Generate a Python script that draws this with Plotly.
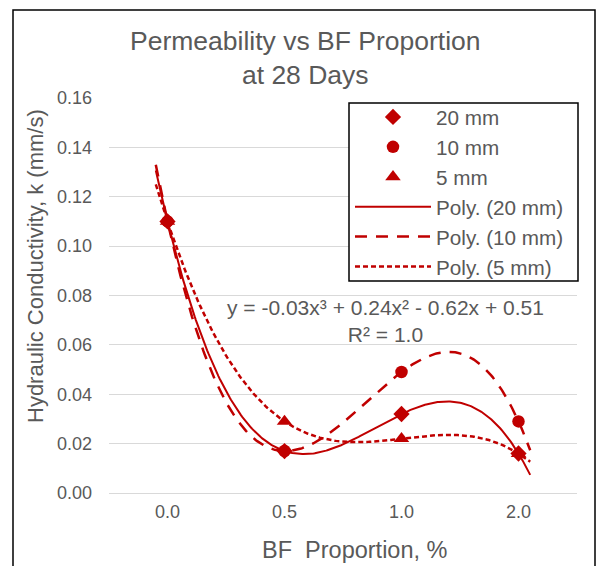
import numpy as np
import plotly.graph_objects as go

categories = ["0.0", "0.5", "1.0", "2.0"]
k_20mm = [0.110, 0.017, 0.032, 0.016]
k_10mm = [0.110, 0.017, 0.049, 0.029]
k_5mm = [0.110, 0.029, 0.022, 0.016]
y_ticks = [0.00, 0.02, 0.04, 0.06, 0.08, 0.10, 0.12, 0.14, 0.16]

RED = "#C00000"
GRAY = "#595959"
FONT = "Liberation Sans, Arial, sans-serif"

W, H = 597, 566
L, R, T, B = 109, 20, 98, 73
pw, ph = W - L - R, H - T - B

def px2paper(x, y):
    return (x - L) / pw, (H - B - y) / ph

xi = np.arange(len(categories), dtype=float)
xs = np.linspace(-0.1, len(categories) - 1 + 0.1, 300)

fig = go.Figure()
fig.add_trace(go.Scatter(x=xi, y=k_20mm, mode="markers", name="20 mm",
                         marker=dict(symbol="diamond", size=12.5, color=RED)))
fig.add_trace(go.Scatter(x=xi, y=k_10mm, mode="markers", name="10 mm",
                         marker=dict(symbol="circle", size=12.5, color=RED)))
fig.add_trace(go.Scatter(x=xi, y=k_5mm, mode="markers", name="5 mm",
                         marker=dict(symbol="triangle-up", size=13.5, color=RED)))

for vals, name, dash, lw in [(k_20mm, "Poly. (20 mm)", "solid", 2.0),
                             (k_10mm, "Poly. (10 mm)", "12px,9px", 2.5),
                             (k_5mm, "Poly. (5 mm)", "5px,3px", 2.5)]:
    c = np.polyfit(xi + 1, vals, 3)
    fig.add_trace(go.Scatter(x=xs, y=np.polyval(c, xs + 1), mode="lines", name=name,
                             line=dict(color=RED, width=lw, dash=dash)))

lx, ly = px2paper(350, 97)
fig.update_layout(
    width=W, height=H,
    margin=dict(l=L, r=R, t=T, b=B),
    paper_bgcolor="white", plot_bgcolor="white",
    font=dict(family=FONT, color=GRAY),
    showlegend=True,
    legend=dict(x=lx, y=ly, xanchor="left", yanchor="top",
                borderwidth=0, bgcolor="rgba(0,0,0,0)",
                font=dict(size=20.7, color=GRAY, family=FONT), itemwidth=76),
    xaxis=dict(range=[-0.5, len(categories) - 0.5], tickvals=xi, ticktext=categories,
               showgrid=False, zeroline=False, showline=False, ticks="",
               tickfont=dict(size=18, color=GRAY), ticklabelstandoff=6),
    yaxis=dict(range=[0, 0.16], tickvals=y_ticks, tickformat=".2f",
               showgrid=True, gridcolor="#d9d9d9", gridwidth=1,
               zeroline=True, zerolinecolor="#d9d9d9", zerolinewidth=1,
               showline=False, ticks="",
               tickfont=dict(size=18, color=GRAY), ticklabelstandoff=16),
)

def ann(px, py, text, size, angle=0):
    ax, ay = px2paper(px, py)
    fig.add_annotation(x=ax, y=ay, xref="paper", yref="paper", showarrow=False,
                       xanchor="center", yanchor="middle", textangle=angle,
                       text=text, font=dict(size=size, color=GRAY, family=FONT))

ann(305, 58, "Permeability vs BF Proportion<br>at 28 Days", 26.5)
ann(35, 266, "Hydraulic Conductivity, k (mm/s)", 22, -90)
ann(355, 550, "BF\u00a0 Proportion, %", 23.5)
ann(385, 321, "y = -0.03x³ + 0.24x² - 0.62x + 0.51<br>R² = 1.0", 21)

# legend box
bx0, by0 = px2paper(349, 103)
bx1, by1 = px2paper(578, 281)
fig.add_shape(type="rect", xref="paper", yref="paper", x0=bx0, y0=by1, x1=bx1, y1=by0,
              line=dict(color="black", width=1.5), fillcolor="white", layer="above")

# chart border
x0, y0 = px2paper(13, 10)
x1, y1 = px2paper(595, 620)
fig.add_shape(type="rect", xref="paper", yref="paper", x0=x0, y0=y1, x1=x1, y1=y0,
              line=dict(color="black", width=1.5), layer="below")

fig.write_html("out.html",
               config={"displayModeBar": False},
               post_script="document.body.style.margin='0';"
                           "document.body.style.overflow='hidden';")
